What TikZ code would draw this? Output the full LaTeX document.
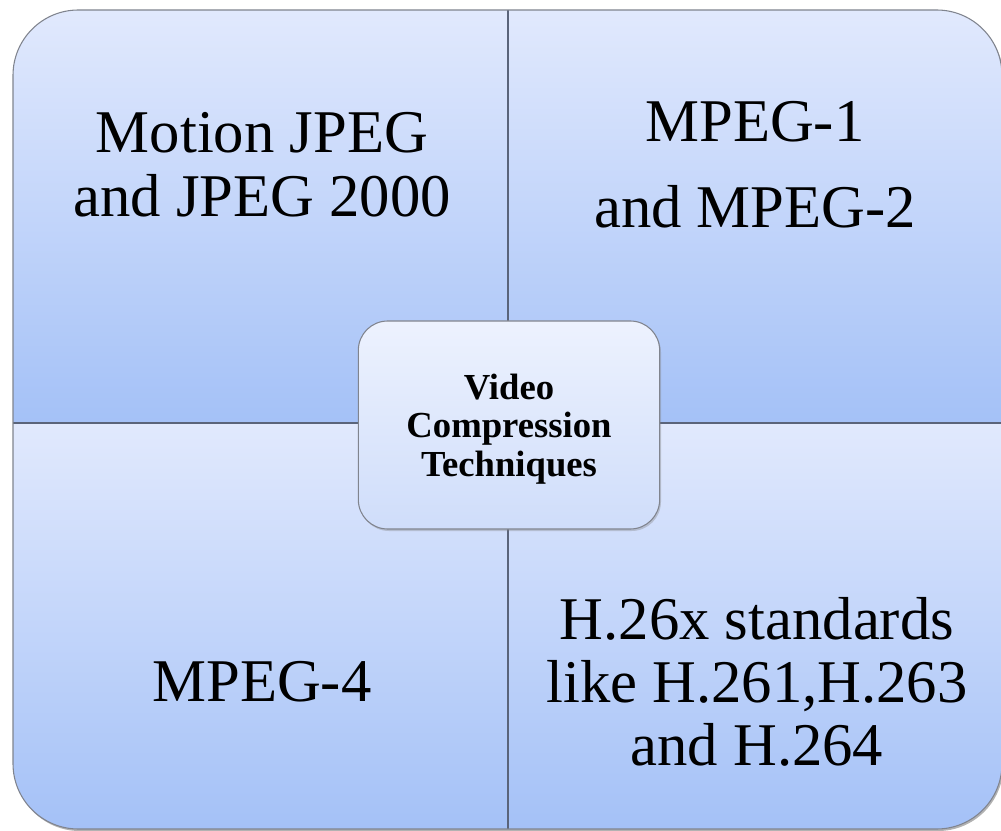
\documentclass[tikz,border=0pt]{standalone}
\usepackage{fontspec}
\setmainfont{Liberation Serif}
\usetikzlibrary{shadows}

\definecolor{quadtop}{RGB}{225,233,253}
\definecolor{quadbottom}{RGB}{164,193,247}
\definecolor{hubtop}{RGB}{237,242,254}
\definecolor{hubbottom}{RGB}{207,221,250}
\definecolor{edgegray}{RGB}{128,132,142}
\definecolor{divgray}{RGB}{90,100,122}

\begin{document}
\begin{tikzpicture}[
      x=0.75pt,
      y=-0.75pt,
      quad/.style={
          top color=quadtop,
          bottom color=quadbottom
        },
      frame/.style={
          draw=edgegray,
          line width=0.8pt,
          rounded corners=49pt
        },
      divider/.style={
          draw=divgray,
          line width=1pt
        },
      quadtext/.style={
          align=center,
          font=\fontsize{45.5}{48}\selectfont
        },
      hub/.style={
          rectangle,
          draw=edgegray,
          line width=0.8pt,
          rounded corners=22pt,
          align=center,
          minimum width=226pt,
          minimum height=156pt,
          text depth=0pt,
          top color=hubtop,
          bottom color=hubbottom,
          font=\bfseries\fontsize{27.5}{29}\selectfont,
          drop shadow={opacity=0.35, shadow xshift=1pt, shadow yshift=-1.5pt}
        }
    ]

    \useasboundingbox (0,0) rectangle (1001,831);

    % Quadrants
    \fill[black, opacity=0.3, rounded corners=49pt, xshift=1pt, yshift=-1.5pt]
      (13,10) rectangle (1002,829);
    \begin{scope}
      \clip[rounded corners=49pt] (13,10) rectangle (1002,829);
      \path[quad] (13,10) rectangle (508,423);
      \path[quad] (508,10) rectangle (1002,423);
      \path[quad] (13,423) rectangle (508,829);
      \path[quad] (508,423) rectangle (1002,829);
    \end{scope}
    \draw[divider, line width=2.2pt] (508,10) -- (508,829);
    \draw[divider] (13,423) -- (1002,423);
    \draw[frame] (13,10) rectangle (1002,829);

    % Nodes
    \node[quadtext] (mjpeg) at (262,165) {Motion JPEG\\and JPEG 2000};
    \node[quadtext, font=\fontsize{45.5}{64.5}\selectfont] (mpeg12) at (755,165) {MPEG-1\\and MPEG-2};
    \node[quadtext] (mpeg4) at (262,682) {MPEG-4};
    \node[quadtext, font=\fontsize{45.5}{47}\selectfont] (h26x) at (757,682) {H.26x standards\\like H.261,H.263\\and H.264};
    \node[hub] (hub) at (509,425) {Video\\Compression\\Techniques};

  \end{tikzpicture}
\end{document}
